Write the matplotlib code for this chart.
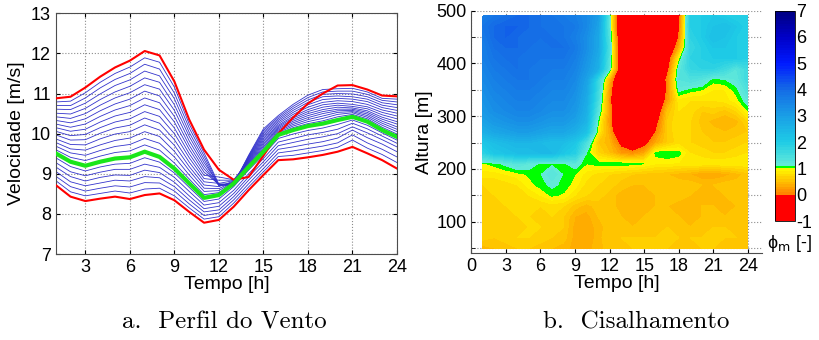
import numpy as np
import matplotlib
matplotlib.use("Agg")
import matplotlib.pyplot as plt
from matplotlib.colors import LinearSegmentedColormap
from matplotlib.ticker import MultipleLocator

plt.rcParams['font.family'] = ['Liberation Sans', 'DejaVu Sans']
plt.rcParams['mathtext.fontset'] = 'dejavusans'
plt.rcParams['axes.unicode_minus'] = False

# eixos comuns
horas = list(range(1, 25))
alturas = list(range(50, 491, 20))   # 23 niveis (50 ... 490 m)

# a. perfil do vento: velocidade [m/s] por hora, niveis de 50 m (vermelho) a 490 m (vermelho)
velocidade_por_hora = [
    [8.72, 8.83, 8.94, 9.06, 9.17, 9.28, 9.40, 9.51, 9.60, 9.69, 9.78, 9.87, 9.97, 10.06, 10.15, 10.24, 10.33, 10.42, 10.51, 10.61, 10.70, 10.79, 10.88],
    [8.43, 8.55, 8.68, 8.80, 8.93, 9.05, 9.18, 9.30, 9.41, 9.52, 9.62, 9.73, 9.84, 9.95, 10.06, 10.16, 10.27, 10.38, 10.49, 10.60, 10.70, 10.81, 10.92],
    [8.32, 8.45, 8.57, 8.70, 8.82, 8.95, 9.07, 9.20, 9.33, 9.46, 9.59, 9.72, 9.85, 9.98, 10.11, 10.24, 10.37, 10.50, 10.63, 10.76, 10.89, 11.02, 11.15],
    [8.38, 8.51, 8.64, 8.77, 8.91, 9.04, 9.17, 9.30, 9.44, 9.58, 9.72, 9.87, 10.01, 10.15, 10.29, 10.43, 10.57, 10.71, 10.85, 10.99, 11.14, 11.28, 11.42],
    [8.43, 8.57, 8.70, 8.84, 8.97, 9.11, 9.24, 9.38, 9.53, 9.68, 9.83, 9.99, 10.14, 10.29, 10.44, 10.59, 10.74, 10.89, 11.04, 11.20, 11.35, 11.50, 11.65],
    [8.37, 8.52, 8.67, 8.82, 8.96, 9.11, 9.26, 9.41, 9.57, 9.73, 9.89, 10.05, 10.21, 10.37, 10.53, 10.70, 10.86, 11.02, 11.18, 11.34, 11.50, 11.66, 11.82],
    [8.47, 8.62, 8.78, 8.93, 9.09, 9.24, 9.40, 9.55, 9.72, 9.88, 10.05, 10.22, 10.39, 10.55, 10.72, 10.89, 11.06, 11.22, 11.39, 11.56, 11.73, 11.89, 12.06],
    [8.51, 8.64, 8.77, 8.90, 9.03, 9.16, 9.29, 9.42, 9.59, 9.76, 9.93, 10.09, 10.26, 10.43, 10.60, 10.77, 10.94, 11.11, 11.28, 11.44, 11.61, 11.78, 11.95],
    [8.34, 8.45, 8.57, 8.68, 8.79, 8.91, 9.02, 9.13, 9.27, 9.42, 9.56, 9.71, 9.85, 10.00, 10.14, 10.29, 10.43, 10.58, 10.72, 10.87, 11.01, 11.16, 11.30],
    [8.05, 8.15, 8.25, 8.35, 8.45, 8.56, 8.66, 8.76, 8.87, 8.97, 9.08, 9.18, 9.29, 9.40, 9.50, 9.61, 9.71, 9.82, 9.93, 10.03, 10.14, 10.24, 10.35],
    [7.78, 7.87, 7.96, 8.05, 8.13, 8.22, 8.31, 8.40, 8.48, 8.56, 8.64, 8.72, 8.80, 8.88, 8.96, 9.04, 9.12, 9.20, 9.28, 9.36, 9.44, 9.52, 9.60],
    [7.85, 7.93, 8.02, 8.10, 8.19, 8.28, 8.37, 8.47, 8.53, 8.58, 8.63, 8.68, 8.76, 8.84, 8.92, 8.74, 8.72, 8.71, 8.73, 8.70, 8.72, 8.74, 9.10],
    [8.18, 8.27, 8.35, 8.43, 8.51, 8.59, 8.68, 8.76, 8.78, 8.80, 8.81, 8.82, 8.83, 8.84, 8.85, 8.74, 8.72, 8.76, 8.70, 8.78, 8.73, 8.75, 8.85],
    [8.59, 8.67, 8.75, 8.84, 8.92, 9.00, 9.09, 9.17, 9.20, 9.22, 9.24, 9.26, 9.28, 9.30, 9.32, 9.34, 9.36, 9.38, 9.40, 9.42, 9.44, 9.46, 8.92],
    [8.97, 9.05, 9.13, 9.22, 9.30, 9.38, 9.47, 9.55, 9.60, 9.64, 9.68, 9.72, 9.76, 9.80, 9.84, 9.88, 9.92, 9.96, 10.00, 10.04, 10.08, 10.12, 9.45],
    [9.34, 9.43, 9.52, 9.61, 9.70, 9.79, 9.88, 9.97, 10.00, 10.03, 10.06, 10.09, 10.12, 10.15, 10.18, 10.21, 10.25, 10.29, 10.33, 10.37, 10.41, 10.45, 10.00],
    [9.36, 9.46, 9.57, 9.67, 9.78, 9.88, 9.99, 10.09, 10.15, 10.19, 10.23, 10.27, 10.31, 10.35, 10.39, 10.43, 10.48, 10.53, 10.58, 10.63, 10.68, 10.73, 10.40],
    [9.41, 9.52, 9.63, 9.74, 9.86, 9.97, 10.08, 10.19, 10.25, 10.30, 10.35, 10.40, 10.45, 10.50, 10.55, 10.60, 10.66, 10.72, 10.78, 10.84, 10.90, 10.96, 10.75],
    [9.47, 9.58, 9.69, 9.80, 9.92, 10.03, 10.14, 10.25, 10.32, 10.38, 10.44, 10.50, 10.55, 10.60, 10.66, 10.72, 10.78, 10.85, 10.92, 10.98, 11.04, 11.10, 11.00],
    [9.55, 9.66, 9.77, 9.89, 10.00, 10.11, 10.23, 10.34, 10.42, 10.48, 10.53, 10.57, 10.61, 10.66, 10.71, 10.76, 10.82, 10.88, 10.94, 11.00, 11.06, 11.12, 11.20],
    [9.67, 9.84, 9.97, 10.09, 10.17, 10.26, 10.34, 10.42, 10.48, 10.52, 10.55, 10.58, 10.61, 10.64, 10.68, 10.73, 10.80, 10.86, 10.92, 10.99, 11.06, 11.13, 11.21],
    [9.51, 9.64, 9.77, 9.90, 10.02, 10.12, 10.21, 10.30, 10.37, 10.41, 10.45, 10.49, 10.53, 10.57, 10.62, 10.67, 10.73, 10.80, 10.86, 10.92, 10.98, 11.04, 11.10],
    [9.34, 9.48, 9.61, 9.74, 9.85, 9.94, 10.02, 10.09, 10.16, 10.21, 10.26, 10.31, 10.36, 10.41, 10.47, 10.53, 10.59, 10.65, 10.71, 10.77, 10.83, 10.88, 10.95],
    [9.13, 9.28, 9.42, 9.55, 9.67, 9.76, 9.84, 9.92, 9.99, 10.05, 10.11, 10.17, 10.24, 10.30, 10.37, 10.44, 10.51, 10.58, 10.65, 10.72, 10.79, 10.86, 10.93],
]
nivel_inferior = 0
nivel_verde = 7
nivel_superior = 22

# b. cisalhamento phi_m [-]: uma linha por altura (50 ... 490 m), colunas = horas 1 ... 24
phi_m = [
    [0.45, 0.5, 0.55, 0.6, 0.6, 0.55, 0.5, 0.45, 0.35, 0.35, 0.45, 0.55, 0.55, 0.6, 0.6, 0.6, 0.6, 0.55, 0.55, 0.6, 0.6, 0.55, 0.55, 0.55],
    [0.65, 0.6, 0.65, 0.7, 0.7, 0.65, 0.6, 0.55, 0.35, 0.3, 0.45, 0.6, 0.6, 0.6, 0.6, 0.6, 0.65, 0.6, 0.6, 0.6, 0.65, 0.6, 0.6, 0.6],
    [0.7, 0.6, 0.6, 0.65, 0.7, 0.7, 0.65, 0.6, 0.35, 0.3, 0.45, 0.55, 0.55, 0.5, 0.55, 0.55, 0.6, 0.55, 0.5, 0.55, 0.6, 0.6, 0.55, 0.55],
    [0.65, 0.6, 0.65, 0.7, 0.7, 0.65, 0.7, 0.6, 0.4, 0.35, 0.5, 0.55, 0.5, 0.45, 0.5, 0.5, 0.55, 0.5, 0.45, 0.5, 0.55, 0.5, 0.5, 0.5],
    [0.6, 0.65, 0.7, 0.7, 0.75, 0.7, 0.75, 0.7, 0.55, 0.45, 0.55, 0.55, 0.45, 0.45, 0.45, 0.5, 0.5, 0.45, 0.45, 0.5, 0.5, 0.45, 0.5, 0.5],
    [0.65, 0.7, 0.7, 0.75, 0.8, 0.9, 1.02, 0.98, 0.8, 0.7, 0.65, 0.55, 0.45, 0.45, 0.45, 0.5, 0.55, 0.55, 0.5, 0.45, 0.45, 0.5, 0.55, 0.55],
    [0.7, 0.7, 0.75, 0.8, 0.95, 1.05, 1.14, 1.06, 0.95, 0.75, 0.7, 0.65, 0.55, 0.5, 0.5, 0.5, 0.5, 0.55, 0.55, 0.5, 0.5, 0.55, 0.55, 0.6],
    [0.85, 0.85, 0.9, 0.95, 1.02, 1.08, 1.3, 1.08, 1.0, 0.85, 0.75, 0.7, 0.65, 0.6, 0.55, 0.55, 0.5, 0.45, 0.4, 0.3, 0.3, 0.35, 0.45, 0.55],
    [0.98, 1.05, 1.15, 1.3, 1.2, 1.07, 1.06, 1.07, 1.2, 1.0, 1.06, 1.07, 1.06, 1.05, 1.0, 0.9, 0.9, 0.88, 0.87, 0.87, 0.86, 0.87, 0.88, 0.88],
    [1.8, 2.1, 2.2, 2.3, 2.3, 2.4, 2.4, 2.1, 1.9, 1.1, 0.7, 0.5, 0.2, 0.1, 0.3, 1.05, 1.1, 1.05, 0.8, 0.75, 0.7, 0.7, 0.75, 0.8],
    [2.1, 2.3, 2.4, 2.5, 2.5, 2.4, 2.3, 2.3, 2.1, 1.4, 0.6, 0.4, -0.15, -0.5, -0.2, 0.3, 0.6, 0.75, 0.7, 0.65, 0.6, 0.6, 0.65, 0.7],
    [2.6, 2.8, 2.9, 3.0, 3.0, 2.9, 2.8, 2.8, 2.6, 2.2, 0.9, 0.3, -0.8, -1.0, -0.8, 0.0, 0.6, 0.8, 0.7, 0.6, 0.55, 0.5, 0.55, 0.6],
    [2.9, 3.1, 3.2, 3.3, 3.3, 3.2, 3.1, 3.1, 2.9, 2.5, 1.05, 0.15, -1.0, -1.0, -1.0, -0.2, 0.6, 0.8, 0.7, 0.55, 0.45, 0.4, 0.45, 0.7],
    [3.1, 3.3, 3.4, 3.5, 3.5, 3.4, 3.3, 3.3, 3.1, 2.6, 1.3, 0.2, -1.0, -1.0, -1.0, -0.5, 0.5, 0.8, 0.75, 0.6, 0.65, 0.55, 0.7, 1.0],
    [3.2, 3.4, 3.5, 3.6, 3.6, 3.5, 3.4, 3.4, 3.2, 2.7, 1.5, 0.1, -1.0, -1.0, -1.0, -0.8, 0.2, 0.85, 0.8, 0.8, 0.8, 0.85, 0.95, 1.2],
    [3.3, 3.5, 3.6, 3.7, 3.7, 3.6, 3.5, 3.5, 3.3, 2.8, 1.6, 0.2, -1.0, -1.0, -1.0, -0.9, 0.05, 1.15, 1.05, 1.0, 0.9, 0.9, 1.05, 1.4],
    [3.4, 3.6, 3.7, 3.8, 3.8, 3.7, 3.6, 3.6, 3.4, 2.9, 1.7, 0.4, -0.9, -1.0, -1.0, -0.8, 0.1, 1.3, 1.4, 1.3, 1.05, 1.1, 1.2, 1.6],
    [3.5, 3.7, 3.8, 3.9, 3.8, 3.7, 3.7, 3.7, 3.5, 3.1, 2.6, 1.2, -0.5, -1.0, -1.0, -1.0, -0.2, 1.2, 1.7, 1.8, 1.8, 1.6, 1.3, 1.6],
    [3.6, 3.8, 3.9, 3.9, 3.8, 3.8, 3.8, 3.8, 3.6, 3.2, 2.7, 1.3, -0.5, -1.0, -1.0, -1.0, -0.4, 0.9, 1.8, 1.9, 2.0, 2.0, 2.0, 1.9],
    [3.6, 3.9, 4.0, 4.0, 3.9, 3.8, 3.9, 3.9, 3.7, 3.3, 2.8, 1.4, -0.6, -1.0, -1.0, -1.0, -0.7, 0.3, 1.7, 1.9, 2.1, 2.1, 2.0, 1.9],
    [3.7, 4.0, 4.1, 4.0, 3.9, 3.9, 3.9, 3.8, 3.6, 3.3, 2.8, 1.3, -0.7, -1.0, -1.0, -1.0, -1.0, 0.0, 1.8, 2.0, 2.3, 2.2, 2.0, 1.9],
    [3.8, 4.0, 4.1, 4.1, 4.0, 3.9, 3.8, 3.8, 3.7, 3.4, 2.9, 1.2, -0.9, -1.0, -1.0, -1.0, -0.8, -0.1, 1.9, 2.0, 2.2, 2.3, 2.1, 1.9],
    [3.6, 3.8, 3.9, 4.0, 4.0, 3.9, 3.8, 3.7, 3.6, 3.4, 3.0, 1.2, -0.8, -1.0, -1.0, -1.0, -0.9, -0.2, 1.9, 2.0, 2.1, 2.0, 1.9, 1.9],
]

# mapa de cores: vermelho < 0, laranja-amarelo 0..1, verde ~1, ciano-azul ate 7
pontos_cores = [
    (0.0, (1.0, 0.0, 0.0)),
    (0.125, (1.0, 0.0, 0.0)),
    (0.125, (1.0, 0.5, 0.0)),
    (0.1875, (1.0, 0.75, 0.0)),
    (0.246, (1.0, 0.97, 0.0)),
    (0.25, (0.0, 1.0, 0.0)),
    (0.2625, (0.0, 1.0, 0.0)),
    (0.2625, (0.4, 0.92, 0.85)),
    (0.375, (0.12, 0.8, 0.9)),
    (0.5, (0.1, 0.62, 0.9)),
    (0.625, (0.08, 0.42, 0.9)),
    (0.75, (0.0, 0.1, 1.0)),
    (0.875, (0.0, 0.0, 0.78)),
    (1.0, (0.0, 0.0, 0.5)),
]
cmap_phi = LinearSegmentedColormap.from_list('phi', pontos_cores, N=512)

fig = plt.figure(figsize=(8.2, 3.4), dpi=100)

# ---------- a. Perfil do Vento ----------
ax1 = fig.add_axes([0.0679, 0.2529, 0.4162, 0.708])
vel = np.array(velocidade_por_hora).T
for k in range(vel.shape[0]):
    if k in (nivel_inferior, nivel_verde, nivel_superior):
        continue
    ax1.plot(horas, vel[k], color=(0.2, 0.2, 0.8), lw=0.6, zorder=2)
ax1.plot(horas, vel[nivel_inferior], color='red', lw=1.5, zorder=3)
ax1.plot(horas, vel[nivel_superior], color='red', lw=1.5, zorder=3)
ax1.plot(horas, vel[nivel_verde], color=(0.1, 0.9, 0.1), lw=3, zorder=4)

ax1.set_xlim(1, 24)
ax1.set_ylim(7, 13)
ax1.set_xticks(range(3, 25, 3))
ax1.set_yticks(range(7, 14))
ax1.grid(True, linestyle=':', color='0.55', lw=0.8)
ax1.tick_params(direction='in', labelsize=13, top=True, right=True, length=3)
ax1.set_xlabel('Tempo [h]', fontsize=14, labelpad=0)
ax1.set_ylabel('Velocidade [m/s]', fontsize=14, labelpad=4)
for s in ax1.spines.values():
    s.set_color('0.3')

# ---------- b. Cisalhamento ----------
ax2 = fig.add_axes([0.5748, 0.2547, 0.3541, 0.7138])
niveis = np.arange(-1, 7.01, 0.1)
cs = ax2.contourf(horas, alturas, np.array(phi_m), levels=niveis,
                  cmap=cmap_phi, vmin=-1, vmax=7, zorder=1)
ax2.set_xlim(0, 25.2)
ax2.set_ylim(40, 500)
ax2.set_xticks(range(0, 25, 3))
ax2.yaxis.set_major_locator(MultipleLocator(100))
ax2.yaxis.set_minor_locator(MultipleLocator(50))
ax2.set_axisbelow(True)
ax2.grid(True, which='both', linestyle=':', color='0.55', lw=0.8)
ax2.tick_params(which='both', direction='in', labelsize=13, length=3)
ax2.set_xlabel('Tempo [h]', fontsize=14, labelpad=0)
ax2.set_ylabel('Altura [m]', fontsize=14, labelpad=2)
ax2.spines['top'].set_visible(False)
ax2.spines['right'].set_visible(False)
ax2.spines['left'].set_color('0.3')
ax2.spines['bottom'].set_color('0.3')

cax = fig.add_axes([0.9451, 0.35, 0.0244, 0.6185])
cb = fig.colorbar(cs, cax=cax, ticks=range(-1, 8))
cb.ax.tick_params(labelsize=13, length=0, pad=1)
cb.outline.set_linewidth(0.6)
fig.text(0.963, 0.285, 'ϕ$_\\mathrm{m}$ [-]', fontsize=13, ha='center', va='center')

# legendas
fig.text(0.273, 0.052, 'a.  Perfil do Vento', fontsize=18, family='cmr10',
         ha='center', va='center')
fig.text(0.776, 0.052, 'b.  Cisalhamento', fontsize=18, family='cmr10',
         ha='center', va='center')

fig.savefig('out.png', dpi=100)
